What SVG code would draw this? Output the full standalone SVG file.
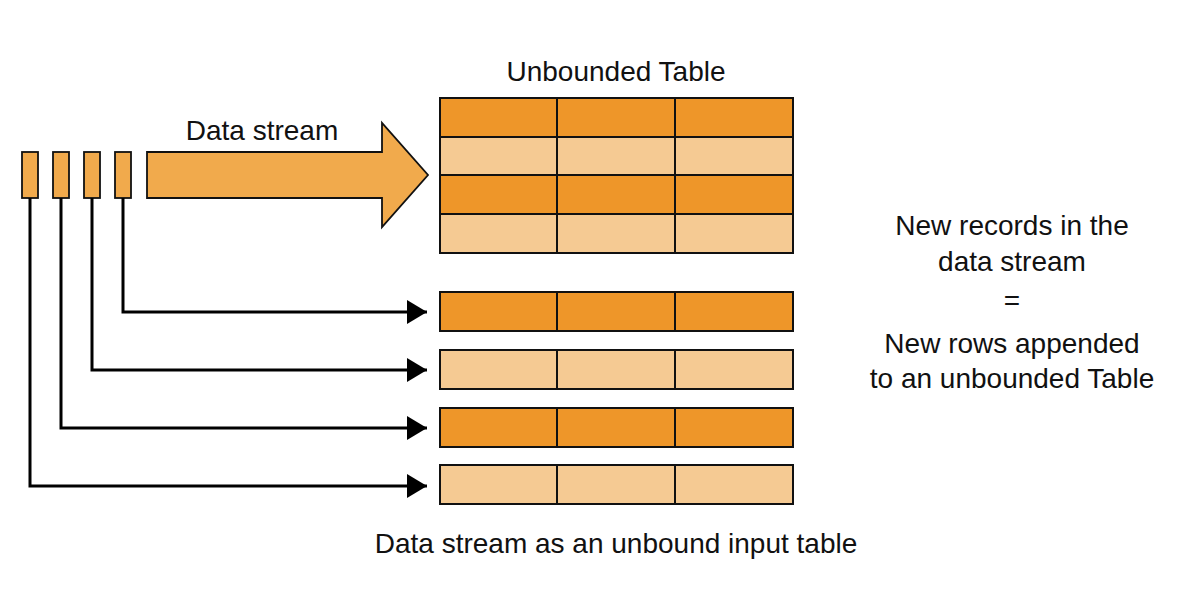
<svg xmlns="http://www.w3.org/2000/svg" width="1185" height="593" viewBox="0 0 1185 593">
<defs>
<style>
.t{font-family:"Liberation Sans",Arial,sans-serif;font-size:28px;fill:#111;text-anchor:middle}
.dk{fill:#EE9629;stroke:#111;stroke-width:2}
.lt{fill:#F5CA93;stroke:#111;stroke-width:2}
.cell{stroke:#111;stroke-width:2}
.box{fill:#F1AA4C;stroke:#111;stroke-width:1.8}
.conn{fill:none;stroke:#000;stroke-width:3}
</style>
<marker id="ah" viewBox="0 0 20 24" refX="20" refY="12" markerWidth="20" markerHeight="24" markerUnits="userSpaceOnUse" orient="auto">
<path d="M0,0 L20,12 L0,24 Z" fill="#000"/>
</marker>
</defs>
<rect width="1185" height="593" fill="#fff"/>

<g id="records">
<rect class="box" x="22" y="152" width="16" height="46"/>
<rect class="box" x="53" y="152" width="16" height="46"/>
<rect class="box" x="84" y="152" width="16" height="46"/>
<rect class="box" x="115" y="152" width="16" height="46"/>
</g>

<g id="stream-arrow">
<path class="box" d="M147,152 H382 V123 L428,175 L382,227 V198 H147 Z"/>
<text class="t" x="262" y="140">Data stream</text>
</g>

<g id="unbounded-table">
<text class="t" x="616" y="81">Unbounded Table</text>
<rect class="dk" x="440" y="98" width="353" height="39"/>
<rect class="lt" x="440" y="137" width="353" height="38"/>
<rect class="dk" x="440" y="175" width="353" height="39"/>
<rect class="lt" x="440" y="214" width="353" height="39"/>
<line class="cell" x1="557" y1="98" x2="557" y2="253"/>
<line class="cell" x1="675" y1="98" x2="675" y2="253"/>
</g>

<g id="row1">
<rect class="dk" x="440" y="292" width="353" height="39"/>
<line class="cell" x1="557" y1="292" x2="557" y2="331"/>
<line class="cell" x1="675" y1="292" x2="675" y2="331"/>
</g>
<g id="row2">
<rect class="lt" x="440" y="350" width="353" height="39"/>
<line class="cell" x1="557" y1="350" x2="557" y2="389"/>
<line class="cell" x1="675" y1="350" x2="675" y2="389"/>
</g>
<g id="row3">
<rect class="dk" x="440" y="408" width="353" height="39"/>
<line class="cell" x1="557" y1="408" x2="557" y2="447"/>
<line class="cell" x1="675" y1="408" x2="675" y2="447"/>
</g>
<g id="row4">
<rect class="lt" x="440" y="465" width="353" height="39"/>
<line class="cell" x1="557" y1="465" x2="557" y2="504"/>
<line class="cell" x1="675" y1="465" x2="675" y2="504"/>
</g>

<g id="connectors">
<path class="conn" d="M123,198 V312 H427" marker-end="url(#ah)"/>
<path class="conn" d="M92,198 V370 H427" marker-end="url(#ah)"/>
<path class="conn" d="M61,198 V428 H427" marker-end="url(#ah)"/>
<path class="conn" d="M30,198 V486 H427" marker-end="url(#ah)"/>
</g>

<g id="explanation">
<text class="t" x="1012" y="235">New records in the</text>
<text class="t" x="1012" y="271">data stream</text>
<text class="t" x="1012" y="310">=</text>
<text class="t" x="1012" y="353">New rows appended</text>
<text class="t" x="1012" y="388">to an unbounded Table</text>
</g>

<g id="caption">
<text class="t" x="616" y="553">Data stream as an unbound input table</text>
</g>
</svg>
